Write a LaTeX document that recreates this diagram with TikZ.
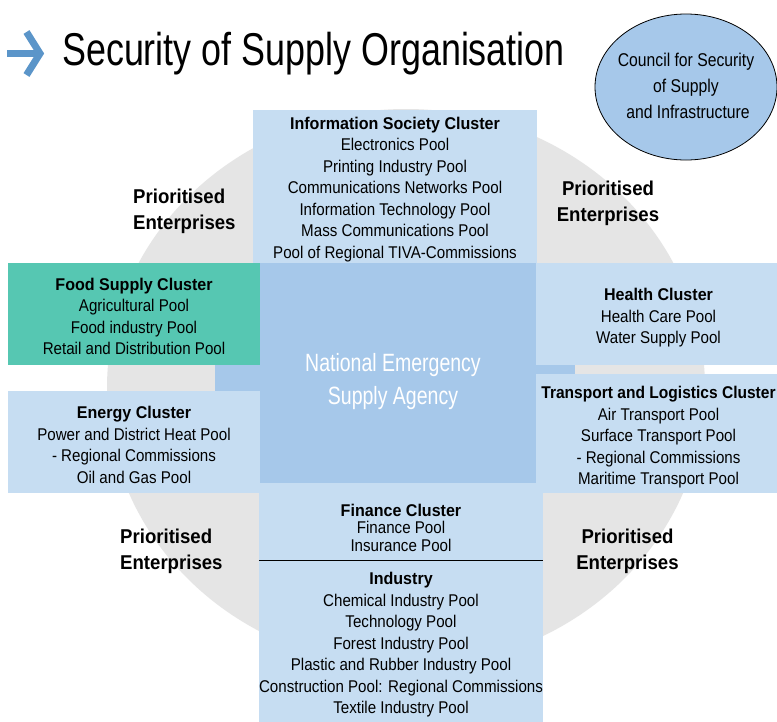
\documentclass[tikz,border=0pt]{standalone}
\usepackage{fontspec}
\setmainfont{Liberation Sans}
\newfontfamily\titlefont[FakeStretch=0.78]{Liberation Sans}
\newfontfamily\bodyfont[FakeStretch=0.89]{Liberation Sans}
\newfontfamily\headfont[FakeStretch=0.945]{Liberation Sans}
\newfontfamily\narrowheadfont[FakeStretch=0.915]{Liberation Sans}
\newfontfamily\priofont[FakeStretch=0.93]{Liberation Sans}
\newfontfamily\neafont[FakeStretch=0.78]{Liberation Sans}
\newfontfamily\councilfont[FakeStretch=0.85]{Liberation Sans}
\usetikzlibrary{shapes.geometric}
\definecolor{lightb}{RGB}{198,221,242}
\definecolor{darkb}{RGB}{166,200,234}
\definecolor{tealc}{RGB}{86,199,178}
\definecolor{grayc}{RGB}{229,229,229}
\definecolor{arrowb}{RGB}{91,149,201}
\newcommand{\hd}{\headfont\bfseries}
\tikzset{
  boxtext/.style={inner sep=0pt, align=center, font=\bodyfont\fontsize{17}{21.5}\selectfont},
  lbox/.style={draw=none, inner sep=0pt, fill=lightb},
  tbox/.style={draw=none, inner sep=0pt, fill=tealc},
  prio/.style={inner sep=0pt, font=\priofont\bfseries\fontsize{20}{26}\selectfont},
}
\begin{document}
\begin{tikzpicture}[x=1pt,y=-1pt]
\clip (0,0) rectangle (777,721);
\fill[white] (0,0) rectangle (777,721);
% background ellipse
\fill[grayc] (406,388) ellipse [x radius=299pt, y radius=279pt];
% central agency
\node[fill=darkb, inner sep=0pt, minimum width=360pt, minimum height=220pt] (nesa) at (395,373) {};
% cluster boxes
\node[lbox, minimum width=284pt, minimum height=153pt] (info) at (395,186.5) {};
\node[tbox, minimum width=252pt, minimum height=102pt] (food) at (134,314) {};
\node[lbox, minimum width=252pt, minimum height=102pt] (energy) at (134,442) {};
\node[lbox, minimum width=245pt, minimum height=102pt] (health) at (658.5,314) {};
\node[lbox, minimum width=245pt, minimum height=119pt] (transport) at (658.5,433.5) {};
\node[lbox, minimum width=284pt, minimum height=77pt] (finance) at (401,521.5) {};
\node[lbox, minimum width=284pt, minimum height=165pt] (industry) at (401,642.5) {};
\draw[black, line width=0.9pt] (finance.south west) -- (finance.south east);
% cluster texts
\node[boxtext] (infotext) at ([shift={(0,3)}]info.center)
 {{\hd Information Society Cluster}\\Electronics Pool\\Printing Industry Pool\\Communications Networks Pool\\Information Technology Pool\\Mass Communications Pool\\Pool of Regional TIVA-Commissions};
\node[boxtext] (foodtext) at ([shift={(0,2.5)}]food.center)
 {{\hd Food Supply Cluster}\\Agricultural Pool\\Food industry Pool\\Retail and Distribution Pool};
\node[boxtext] (energytext) at ([shift={(0,3)}]energy.center)
 {{\hd Energy Cluster}\\Power and District Heat Pool\\- Regional Commissions\\Oil and Gas Pool};
\node[boxtext] (healthtext) at ([shift={(0,4)}]health.center)
 {{\hd Health Cluster}\\Health Care Pool\\Water Supply Pool};
\node[boxtext] (transporttext) at ([shift={(0,4)}]transport.center)
 {{\narrowheadfont\bfseries Transport and Logistics Cluster}\\Air Transport Pool\\Surface Transport Pool\\- Regional Commissions\\Maritime Transport Pool};
\node[boxtext, font=\bodyfont\fontsize{17}{17.5}\selectfont] (financetext) at ([shift={(0,6)}]finance.center)
 {{\hd Finance Cluster}\\Finance Pool\\Insurance Pool};
\node[boxtext] (industrytext) at ([shift={(0,2.5)}]industry.center)
 {{\hd Industry}\\Chemical Industry Pool\\Technology Pool\\Forest Industry Pool\\Plastic and Rubber Industry Pool\\Construction Pool: Regional Commissions\\Textile Industry Pool};
% agency label
\node[inner sep=0pt, align=center, text=white, font=\neafont\fontsize{25}{33}\selectfont] (nesalabel) at (393,382) {National Emergency\\Supply Agency};
% prioritised enterprises
\node[prio, align=left, anchor=west] (p1) at (133,211) {Prioritised\\Enterprises};
\node[prio, align=center] (p2) at (608,203) {Prioritised\\Enterprises};
\node[prio, align=left, anchor=west] (p3) at (120,551) {Prioritised\\Enterprises};
\node[prio, align=center] (p4) at (627.5,551) {Prioritised\\Enterprises};
% council
\node[ellipse, draw=black, line width=0.8pt, fill=darkb, inner sep=0pt, minimum width=182pt, minimum height=146pt] (council) at (686,87) {};
\node[inner sep=0pt, align=center, font=\councilfont\fontsize{18.5}{26}\selectfont] (counciltext) at ([shift={(0,-1)}]council.center)
 {Council for Security\\of Supply\\\hspace*{4pt}and Infrastructure};
% title
\draw[arrowb, line width=7pt] (7,53.5) -- (40,53.5);
\draw[arrowb, line width=7pt, miter limit=10] (26.5,32) -- (40,53.5) -- (26.5,75);
\node[anchor=base west, inner sep=0pt, font=\titlefont\fontsize{46}{50}\selectfont] (title) at (62,65) {Security of Supply Organisation};
\end{tikzpicture}
\end{document}
